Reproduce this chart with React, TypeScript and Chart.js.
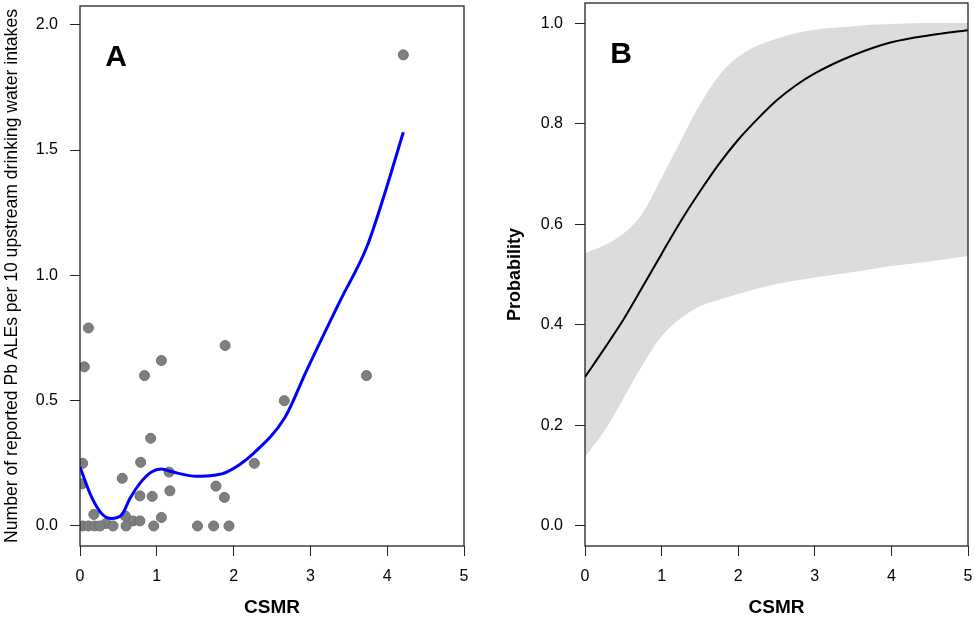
import React, { useEffect, useRef } from "react";
import { Chart, registerables } from "chart.js";

Chart.register(...registerables);

// Panel A: observed points
const ptsX = [0.11, 0.056, 0.84, 1.06, 1.89, 2.66, 3.73, 4.21, 0.92, 0.035, 0.79, 2.27, 0.026, 0.55, 1.16, 0.78, 0.94, 1.17, 1.77, 1.88, 0.18, 1.06, 0.59, 0.69, 0.78, 0.34, 0.035, 0.11, 0.19, 0.26, 0.43, 0.6, 0.96, 1.53, 1.74, 1.94];
const ptsY = [0.79, 0.635, 0.6, 0.66, 0.72, 0.5, 0.6, 1.88, 0.35, 0.25, 0.254, 0.25, 0.168, 0.19, 0.215, 0.12, 0.118, 0.14, 0.159, 0.114, 0.046, 0.034, 0.04, 0.02, 0.02, 0.01, 0, 0, 0, 0, 0, 0, 0, 0, 0, 0];

// Panel A: loess fit
const loessX = [0.0, 0.15, 0.28, 0.41, 0.54, 0.65, 0.78, 0.93, 1.06, 1.21, 1.52, 1.74, 1.91, 2.26, 2.67, 2.95, 3.39, 3.73, 3.93, 4.21];
const loessY = [0.235, 0.116, 0.05, 0.03, 0.043, 0.11, 0.17, 0.215, 0.227, 0.215, 0.198, 0.202, 0.215, 0.29, 0.434, 0.62, 0.9, 1.11, 1.29, 1.571];

// Panel B: fitted probability and confidence band
const probX = [0, 0.25, 0.5, 0.75, 1.0, 1.25, 1.5, 1.75, 2.0, 2.25, 2.5, 2.75, 3.0, 3.5, 4.0, 4.5, 5.0];
const probY = [0.296, 0.352, 0.41, 0.475, 0.541, 0.606, 0.665, 0.72, 0.768, 0.809, 0.846, 0.876, 0.9, 0.936, 0.962, 0.976, 0.986];
const upperY = [0.542, 0.558, 0.581, 0.622, 0.692, 0.766, 0.838, 0.896, 0.933, 0.955, 0.969, 0.98, 0.987, 0.994, 0.998, 1.0, 1.0];
const lowerY = [0.137, 0.188, 0.253, 0.32, 0.377, 0.413, 0.437, 0.45, 0.461, 0.472, 0.481, 0.488, 0.494, 0.505, 0.517, 0.526, 0.537];

const xTicks = [0, 1, 2, 3, 4, 5];
const yTicksA = [0, 0.5, 1.0, 1.5, 2.0];
const yTicksB = [0, 0.2, 0.4, 0.6, 0.8, 1.0];

const FONT = "'Liberation Sans', Arial, Helvetica, sans-serif";

function boxPlugin(letter: string) {
  return {
    id: "box" + letter,
    afterDraw(chart: any) {
      const { ctx, chartArea: a } = chart;
      ctx.save();
      ctx.strokeStyle = "#222";
      ctx.lineWidth = 1.3;
      ctx.strokeRect(a.left, a.top, a.right - a.left, a.bottom - a.top);
      ctx.fillStyle = "#000";
      ctx.font = `bold 30px ${FONT}`;
      ctx.textAlign = "center";
      ctx.textBaseline = "middle";
      ctx.fillText(letter, a.left + 36, a.top + 52);
      ctx.restore();
    },
  };
}

function zeroPad(s: any) {
  s.paddingTop = 0;
  s.paddingBottom = 0;
  s.paddingLeft = 0;
  s.paddingRight = 0;
}

function makeScales(yTicks: number[], ymin: number, ymax: number, yTitle: string, yTitleFont: any, yTitlePad: number, yWidth: number) {
  return {
    x: {
      type: "linear",
      min: 0,
      max: 5,
      afterBuildTicks: (s: any) => { s.ticks = xTicks.map((v) => ({ value: v })); },
      afterFit: (s: any) => { s.height = 85; zeroPad(s); },
      ticks: { color: "#000", font: { size: 16, family: FONT }, padding: 11, callback: (v: any) => String(v), maxRotation: 0 },
      grid: { drawOnChartArea: false, drawTicks: true, tickLength: 10, tickColor: "#222", color: "#222" },
      border: { display: false },
      title: { display: true, text: "CSMR", color: "#000", font: { size: 19, weight: "bold", family: FONT }, padding: { top: 0, bottom: 12 } },
    },
    y: {
      type: "linear",
      min: ymin,
      max: ymax,
      afterBuildTicks: (s: any) => { s.ticks = yTicks.map((v) => ({ value: v })); },
      afterFit: (s: any) => { s.width = yWidth; zeroPad(s); },
      ticks: { color: "#000", font: { size: 16, family: FONT }, padding: 12, callback: (v: any) => Number(v).toFixed(1) },
      grid: { drawOnChartArea: false, drawTicks: true, tickLength: 10, tickColor: "#222", color: "#222" },
      border: { display: false },
      title: { display: true, text: yTitle, color: "#000", font: yTitleFont, padding: { top: yTitlePad, bottom: 0 } },
    },
  };
}

export default function App() {
  const refA = useRef<HTMLCanvasElement>(null);
  const refB = useRef<HTMLCanvasElement>(null);

  useEffect(() => {
    document.body.style.margin = "0";
    Chart.defaults.font.family = FONT;

    const chartA = new Chart(refA.current!, {
      type: "scatter",
      data: {
        datasets: [
          {
            type: "line",
            data: loessX.map((x, i) => ({ x, y: loessY[i] })),
            borderColor: "#0000ff",
            borderWidth: 3,
            pointRadius: 0,
            fill: false,
            tension: 0.4,
            cubicInterpolationMode: "monotone",
          } as any,
          {
            type: "scatter",
            data: ptsX.map((x, i) => ({ x, y: ptsY[i] })),
            backgroundColor: "#7f7f7f",
            borderColor: "#6e6e6e",
            borderWidth: 1,
            pointRadius: 5,
          },
        ],
      },
      options: {
        responsive: false,
        animation: false,
        layout: { padding: { left: 0, right: 16, top: 3, bottom: 0 } },
        plugins: { legend: { display: false }, tooltip: { enabled: false } },
        scales: makeScales(yTicksA, -0.08, 2.075, "Number of reported Pb ALEs per 10 upstream drinking water intakes", { size: 17.6, family: FONT }, 2, 80) as any,
      },
      plugins: [boxPlugin("A")],
    });

    const chartB = new Chart(refB.current!, {
      type: "line",
      data: {
        datasets: [
          {
            data: probX.map((x, i) => ({ x, y: probY[i] })),
            borderColor: "#000",
            borderWidth: 2,
            pointRadius: 0,
            fill: false,
            tension: 0.4,
            cubicInterpolationMode: "monotone",
          } as any,
          {
            data: probX.map((x, i) => ({ x, y: upperY[i] })),
            borderWidth: 0,
            borderColor: "rgba(0,0,0,0)",
            backgroundColor: "#dcdcdc",
            pointRadius: 0,
            fill: "+1",
            tension: 0.4,
            cubicInterpolationMode: "monotone",
          },
          {
            data: probX.map((x, i) => ({ x, y: lowerY[i] })),
            borderWidth: 0,
            borderColor: "rgba(0,0,0,0)",
            pointRadius: 0,
            fill: false,
            tension: 0.4,
            cubicInterpolationMode: "monotone",
          },
        ],
      },
      options: {
        responsive: false,
        animation: false,
        layout: { padding: { left: 0, right: 7, top: 3, bottom: 0 } },
        plugins: { legend: { display: false }, tooltip: { enabled: false } },
        scales: makeScales(yTicksB, -0.04, 1.04, "Probability", { size: 18, weight: "bold", family: FONT }, 24, 105) as any,
      },
      plugins: [boxPlugin("B")],
    });

    return () => {
      chartA.destroy();
      chartB.destroy();
    };
  }, []);

  return (
    <div style={{ position: "fixed", left: 0, top: 0, width: 975, height: 631, background: "#fff" }}>
      <canvas ref={refA} width={480} height={631} style={{ position: "absolute", left: 0, top: 0, width: 480, height: 631 }} />
      <canvas ref={refB} width={495} height={631} style={{ position: "absolute", left: 480, top: 0, width: 495, height: 631 }} />
    </div>
  );
}
